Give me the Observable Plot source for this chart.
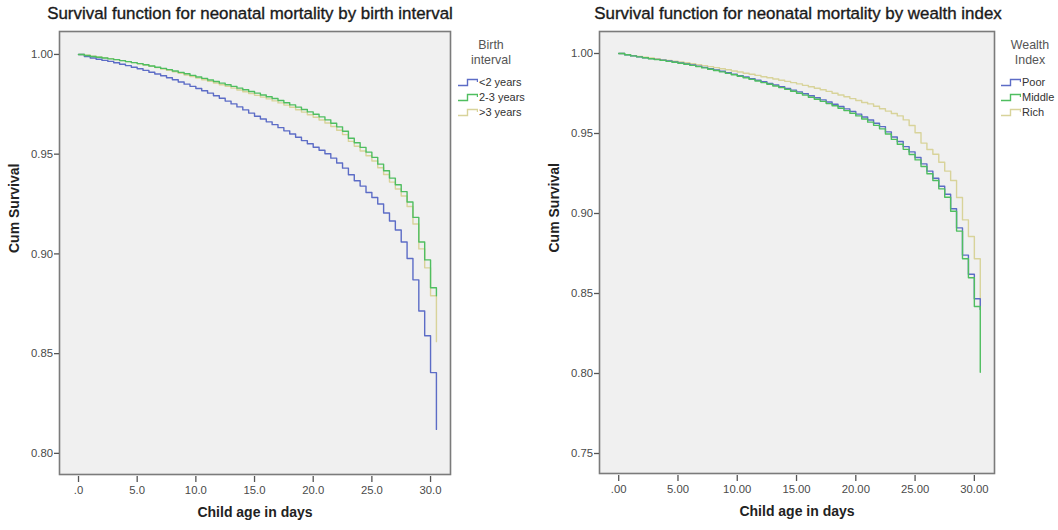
<!DOCTYPE html>
<html>
<head>
<meta charset="utf-8">
<script src="https://cdn.jsdelivr.net/npm/d3@7"></script>
<script src="https://cdn.jsdelivr.net/npm/@observablehq/plot@0.6"></script>
<style>
  html, body { margin: 0; padding: 0; background: #fff; }
  #wrap { position: relative; width: 1058px; height: 530px; overflow: hidden; font-family: "Liberation Sans", Arial, sans-serif; }
  .panel { position: absolute; top: 0; }
  .title { position: absolute; top: 4px; font-size: 16.9px; color: #1a1a1a; white-space: nowrap; transform: translateX(-50%); -webkit-text-stroke: 0.35px #1a1a1a; }
  .legend { position: absolute; top: 38px; font-size: 11px; color: #333; }
  .legend .lt { text-align: center; font-size: 12.4px; color: #555; line-height: 14.5px; }
  .legend .item { display: flex; align-items: center; height: 14.7px; white-space: nowrap; }
  .legend svg { display: block; margin-right: 1px; }
</style>
</head>
<body>
<div id="wrap"></div>
<script>
// ---- data ----
const days = [0, 0.5, 1, 1.5, 2, 2.5, 3, 3.5, 4, 4.5, 5, 5.5, 6, 6.5, 7, 7.5, 8, 8.5, 9, 9.5,
  10, 10.5, 11, 11.5, 12, 12.5, 13, 13.5, 14, 14.5, 15, 15.5, 16, 16.5, 17, 17.5, 18, 18.5, 19, 19.5,
  20, 20.5, 21, 21.5, 22, 22.5, 23, 23.5, 24, 24.5, 25, 25.5, 26, 26.5, 27, 27.5, 28, 28.5, 29, 29.5,
  30, 30.5];

// Birth interval
const birthLabels = ["<2 years", "2-3 years", ">3 years"];
const survLt2 = [1.0000, 0.9990, 0.9982, 0.9976, 0.9970, 0.9965, 0.9958, 0.9951, 0.9944, 0.9936,
  0.9928, 0.9920, 0.9911, 0.9902, 0.9893, 0.9883, 0.9873, 0.9862, 0.9851, 0.9840,
  0.9829, 0.9818, 0.9806, 0.9793, 0.9780, 0.9766, 0.9752, 0.9737, 0.9722, 0.9706,
  0.9690, 0.9676, 0.9662, 0.9648, 0.9633, 0.9617, 0.9601, 0.9585, 0.9568, 0.9552,
  0.9535, 0.9520, 0.9502, 0.9480, 0.9456, 0.9430, 0.9397, 0.9367, 0.9340, 0.9308,
  0.9283, 0.9250, 0.9205, 0.9165, 0.9120, 0.9060, 0.8977, 0.8870, 0.8714, 0.8590,
  0.8405, 0.8120];
const surv23 = [1.0000, 0.9995, 0.9990, 0.9986, 0.9982, 0.9978, 0.9974, 0.9969, 0.9964, 0.9959,
  0.9954, 0.9948, 0.9942, 0.9936, 0.9930, 0.9924, 0.9917, 0.9910, 0.9903, 0.9895,
  0.9887, 0.9880, 0.9872, 0.9864, 0.9856, 0.9848, 0.9840, 0.9831, 0.9823, 0.9814,
  0.9806, 0.9797, 0.9788, 0.9779, 0.9769, 0.9758, 0.9747, 0.9736, 0.9724, 0.9712,
  0.9700, 0.9687, 0.9672, 0.9655, 0.9637, 0.9615, 0.9580, 0.9557, 0.9534, 0.9510,
  0.9484, 0.9450, 0.9417, 0.9380, 0.9347, 0.9312, 0.9260, 0.9183, 0.9060, 0.8970,
  0.8830, 0.8790];
const survGt3 = [1.0000, 0.9996, 0.9991, 0.9987, 0.9983, 0.9979, 0.9974, 0.9969, 0.9964, 0.9959,
  0.9953, 0.9947, 0.9941, 0.9934, 0.9927, 0.9920, 0.9913, 0.9905, 0.9897, 0.9889,
  0.9881, 0.9873, 0.9865, 0.9857, 0.9848, 0.9840, 0.9831, 0.9822, 0.9813, 0.9804,
  0.9795, 0.9786, 0.9777, 0.9767, 0.9757, 0.9746, 0.9735, 0.9723, 0.9711, 0.9698,
  0.9685, 0.9671, 0.9656, 0.9639, 0.9620, 0.9598, 0.9564, 0.9540, 0.9516, 0.9492,
  0.9466, 0.9432, 0.9398, 0.9360, 0.9325, 0.9290, 0.9238, 0.9150, 0.9025, 0.8930,
  0.8790, 0.8560];

// Wealth index
const wealthLabels = ["Poor", "Middle", "Rich"];
const survPoor = [1.0000, 0.9992, 0.9985, 0.9979, 0.9973, 0.9968, 0.9963, 0.9958, 0.9953, 0.9947,
  0.9941, 0.9935, 0.9928, 0.9921, 0.9913, 0.9905, 0.9897, 0.9889, 0.9880, 0.9871,
  0.9862, 0.9853, 0.9843, 0.9833, 0.9823, 0.9813, 0.9803, 0.9793, 0.9782, 0.9771,
  0.9760, 0.9748, 0.9736, 0.9723, 0.9710, 0.9697, 0.9683, 0.9669, 0.9654, 0.9638,
  0.9621, 0.9603, 0.9584, 0.9564, 0.9543, 0.9510, 0.9478, 0.9450, 0.9418, 0.9385,
  0.9350, 0.9310, 0.9265, 0.9220, 0.9170, 0.9120, 0.9030, 0.8910, 0.8740, 0.8620,
  0.8467, 0.8400];
const survMiddle = [1.0000, 0.9992, 0.9985, 0.9979, 0.9973, 0.9967, 0.9962, 0.9957, 0.9951, 0.9945,
  0.9939, 0.9933, 0.9926, 0.9918, 0.9910, 0.9902, 0.9894, 0.9885, 0.9876, 0.9867,
  0.9858, 0.9848, 0.9838, 0.9828, 0.9818, 0.9808, 0.9797, 0.9787, 0.9776, 0.9764,
  0.9752, 0.9740, 0.9727, 0.9714, 0.9701, 0.9687, 0.9673, 0.9658, 0.9643, 0.9627,
  0.9610, 0.9591, 0.9571, 0.9551, 0.9529, 0.9497, 0.9463, 0.9433, 0.9401, 0.9369,
  0.9335, 0.9294, 0.9248, 0.9206, 0.9154, 0.9102, 0.9014, 0.8890, 0.8717, 0.8598,
  0.8419, 0.8008];
const survRich = [1.0000, 0.9993, 0.9987, 0.9982, 0.9977, 0.9972, 0.9967, 0.9962, 0.9957, 0.9952,
  0.9947, 0.9942, 0.9936, 0.9930, 0.9924, 0.9918, 0.9912, 0.9905, 0.9898, 0.9891,
  0.9884, 0.9877, 0.9870, 0.9863, 0.9855, 0.9848, 0.9841, 0.9833, 0.9826, 0.9818,
  0.9810, 0.9801, 0.9792, 0.9783, 0.9773, 0.9763, 0.9752, 0.9741, 0.9730, 0.9718,
  0.9706, 0.9694, 0.9685, 0.9670, 0.9655, 0.9640, 0.9625, 0.9610, 0.9585, 0.9550,
  0.9505, 0.9440, 0.9400, 0.9370, 0.9320, 0.9265, 0.9206, 0.9100, 0.8960, 0.8856,
  0.8717, 0.8400];

// ticks
const yTicksLeft = [0.80, 0.85, 0.90, 0.95, 1.00];
const yTicksRight = [0.75, 0.80, 0.85, 0.90, 0.95, 1.00];
const xTicks = [0, 5, 10, 15, 20, 25, 30];
const xTickLabelsLeft = [".0", "5.0", "10.0", "15.0", "20.0", "25.0", "30.0"];
const xTickLabelsRight = [".00", "5.00", "10.00", "15.00", "20.00", "25.00", "30.00"];

const titles = ["Survival function for neonatal mortality by birth interval",
                "Survival function for neonatal mortality by wealth index"];
const legendTitles = [["Birth", "interval"], ["Wealth", "Index"]];
const xLabel = "Child age in days";
const yLabel = "Cum Survival";

// ---- styling ----
const colors = ["#5c6cc6", "#4fbe60", "#d8d39a"];
const FONT = "Liberation Sans, Arial, sans-serif";

function rows(valuesList, labels) {
  return labels.map((lab, k) => days.map((t, i) => ({t, v: valuesList[k][i], g: lab})));
}

function chart({series, labels, yDomain, yTicks, xLabels, mLeft, mRight, mBottom}) {
  const data = rows(series, labels);
  const order = [2, 0, 1];
  return Plot.plot({
    width: 529, height: 530,
    marginLeft: mLeft, marginRight: mRight, marginTop: 31, marginBottom: mBottom,
    x: {domain: [-1.62, 31.7]},
    y: {domain: yDomain},
    style: {fontFamily: FONT, fontSize: "11.3px", color: "#4a4a4a", background: "transparent", overflow: "visible"},
    marks: [
      Plot.frame({fill: "#f0f0f0", stroke: null}),
      ...order.map(k => Plot.line(data[k], {x: "t", y: "v", curve: "step-after", stroke: colors[k], strokeWidth: 1.4})),
      Plot.frame({stroke: "#7b7b7b", strokeWidth: 1.6}),
      Plot.axisY({ticks: yTicks, tickFormat: d3.format(".2f"), tickSize: 5, tickPadding: 1.5, label: null, stroke: "#555", strokeWidth: 1.3}),
      Plot.axisX({ticks: xTicks, tickFormat: (d, i) => xLabels[i], tickSize: 6, tickPadding: 3, dy: 2, label: null, stroke: "#555", strokeWidth: 1.3}),
      Plot.text([xLabel], {frameAnchor: "bottom", dy: 42, fontSize: 14, fontWeight: "bold", fill: "#222"}),
      Plot.text([yLabel], {frameAnchor: "left", dx: -45, rotate: -90, fontSize: 14, fontWeight: "bold", fill: "#222"})
    ]
  });
}

const wrap = document.getElementById("wrap");

const left = chart({series: [survLt2, surv23, survGt3], labels: birthLabels,
  yDomain: [0.7894, 1.0115], yTicks: yTicksLeft, xLabels: xTickLabelsLeft, mLeft: 59, mRight: 79, mBottom: 56});
left.classList.add("panel"); left.style.left = "0px";
wrap.appendChild(left);

const right = chart({series: [survPoor, survMiddle, survRich], labels: wealthLabels,
  yDomain: [0.7375, 1.01375], yTicks: yTicksRight, xLabels: xTickLabelsRight, mLeft: 70, mRight: 64, mBottom: 57});
right.classList.add("panel"); right.style.left = "529px";
wrap.appendChild(right);

// titles
[[250, titles[0]], [798, titles[1]]].forEach(([cx, txt]) => {
  const d = document.createElement("div");
  d.className = "title"; d.style.left = cx + "px"; d.textContent = txt;
  wrap.appendChild(d);
});

// legends
function legend(x, titleLines, labels, titleCenter) {
  const lg = document.createElement("div");
  lg.className = "legend"; lg.style.left = x + "px";
  const t = document.createElement("div");
  t.className = "lt"; t.style.width = (titleCenter - x) * 2 + "px";
  t.innerHTML = titleLines.join("<br>");
  t.style.marginBottom = "8px";
  lg.appendChild(t);
  labels.forEach((lab, k) => {
    const it = document.createElement("div"); it.className = "item";
    it.innerHTML = `<svg width="20" height="10"><path d="M0,8.5 H9.5 V2.5 H19.5 V5" fill="none" stroke="${colors[k]}" stroke-width="1.4"/></svg><span>${lab.replace("<", "&lt;").replace(">", "&gt;")}</span>`;
    lg.appendChild(it);
  });
  wrap.appendChild(lg);
}
legend(458, legendTitles[0], birthLabels, 491);
legend(1001, legendTitles[1], wealthLabels, 1030);
</script>
</body>
</html>
